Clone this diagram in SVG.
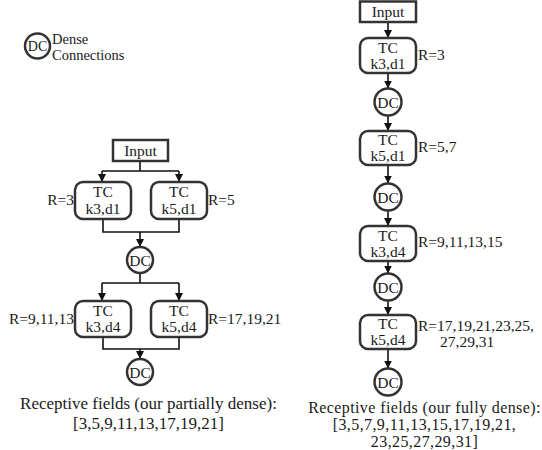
<svg xmlns="http://www.w3.org/2000/svg" width="542" height="450" viewBox="0 0 542 450">
<style>
text{font-family:"Liberation Serif","Times New Roman","DejaVu Serif",serif;fill:#1a1a1a}
.box{fill:#fff;stroke:#333;stroke-width:2.5}
.dc{fill:#fff;stroke:#333;stroke-width:2.5}
.n{font-size:15.5px;text-anchor:middle}
.lbl{font-size:15.5px}
.cap{font-size:17px;text-anchor:middle}
.cap2{font-size:16px;letter-spacing:0.4px;text-anchor:middle}
.c{fill:none;stroke:#111;stroke-width:1.6}
</style>
<defs>
<marker id="ah" viewBox="0 0 8 8" refX="8" refY="4" markerWidth="8" markerHeight="8" markerUnits="userSpaceOnUse" orient="auto">
<path d="M0,0 L8,4 L0,8 Z" fill="#111"/>
</marker>
</defs>
<rect width="542" height="450" fill="#fff"/>

<g id="legend">
<circle class="dc" cx="37.5" cy="46" r="12.5"/>
<text x="37.5" y="51" font-size="14" text-anchor="middle">DC</text>
<text x="52" y="44" font-size="14.5">Dense</text>
<text x="52" y="60" font-size="14.5">Connections</text>
</g>

<g id="connectors">
<path class="c" d="M140,161 V171 M102,171 H179"/>
<path class="c" d="M102,171 V182" marker-end="url(#ah)"/>
<path class="c" d="M179,171 V182" marker-end="url(#ah)"/>
<path class="c" d="M103,219 V232 H179 V219"/>
<path class="c" d="M140,232 V247" marker-end="url(#ah)"/>
<path class="c" d="M140,273 V283 M102,283 H179"/>
<path class="c" d="M102,283 V301" marker-end="url(#ah)"/>
<path class="c" d="M179,283 V301" marker-end="url(#ah)"/>
<path class="c" d="M103,337 V349 H179 V337"/>
<path class="c" d="M140,349 V359" marker-end="url(#ah)"/>
<path class="c" d="M388,22 V38" marker-end="url(#ah)"/>
<path class="c" d="M388,73 V88.5" marker-end="url(#ah)"/>
<path class="c" d="M388,116 V131" marker-end="url(#ah)"/>
<path class="c" d="M388,165 V183.5" marker-end="url(#ah)"/>
<path class="c" d="M388,211 V226" marker-end="url(#ah)"/>
<path class="c" d="M388,261 V273.5" marker-end="url(#ah)"/>
<path class="c" d="M388,301 V315" marker-end="url(#ah)"/>
<path class="c" d="M388,349 V368.5" marker-end="url(#ah)"/>
</g>

<g id="L_input">
<rect class="box" x="113" y="140" width="55" height="21"/>
<text class="n" x="140.5" y="156">Input</text>
</g>
<g id="L_tc1">
<rect class="box" x="75" y="182" width="56" height="37" rx="8"/>
<text class="n" x="103" y="197">TC</text>
<text class="n" x="103" y="213.5">k3,d1</text>
<text class="lbl" x="74" y="205" text-anchor="end">R=3</text>
</g>
<g id="L_tc2">
<rect class="box" x="151" y="182" width="56" height="37" rx="8"/>
<text class="n" x="179" y="197">TC</text>
<text class="n" x="179" y="213.5">k5,d1</text>
<text class="lbl" x="208" y="205">R=5</text>
</g>
<g id="L_dc1">
<circle class="dc" cx="140" cy="260" r="13"/>
<text class="n" x="140" y="265.5">DC</text>
</g>
<g id="L_tc3">
<rect class="box" x="75" y="301" width="56" height="36" rx="8"/>
<text class="n" x="103" y="315.5">TC</text>
<text class="n" x="103" y="332">k3,d4</text>
<text class="lbl" x="74" y="324" text-anchor="end">R=9,11,13</text>
</g>
<g id="L_tc4">
<rect class="box" x="151" y="301" width="56" height="36" rx="8"/>
<text class="n" x="179" y="315.5">TC</text>
<text class="n" x="179" y="332">k5,d4</text>
<text class="lbl" x="208" y="324">R=17,19,21</text>
</g>
<g id="L_dc2">
<circle class="dc" cx="140" cy="372" r="13"/>
<text class="n" x="140" y="377.5">DC</text>
</g>
<g id="L_caption">
<text class="cap" x="148.5" y="409">Receptive fields (our partially dense):</text>
<text class="cap" x="148.5" y="429">[3,5,9,11,13,17,19,21]</text>
</g>

<g id="R_input">
<rect class="box" x="360" y="1.5" width="56" height="20.5"/>
<text class="n" x="388" y="17">Input</text>
</g>
<g id="R_tc1">
<rect class="box" x="360" y="38" width="56" height="35" rx="8"/>
<text class="n" x="388" y="52.5">TC</text>
<text class="n" x="388" y="68.5">k3,d1</text>
<text class="lbl" x="418" y="60">R=3</text>
</g>
<g id="R_dc1">
<circle class="dc" cx="388" cy="102" r="13.5"/>
<text class="n" x="388" y="107.5">DC</text>
</g>
<g id="R_tc2">
<rect class="box" x="360" y="131" width="56" height="34" rx="8"/>
<text class="n" x="388" y="144.5">TC</text>
<text class="n" x="388" y="160.5">k5,d1</text>
<text class="lbl" x="418" y="152">R=5,7</text>
</g>
<g id="R_dc2">
<circle class="dc" cx="388" cy="197" r="13.5"/>
<text class="n" x="388" y="202.5">DC</text>
</g>
<g id="R_tc3">
<rect class="box" x="360" y="226" width="56" height="35" rx="8"/>
<text class="n" x="388" y="240.5">TC</text>
<text class="n" x="388" y="256.5">k3,d4</text>
<text class="lbl" x="418" y="247">R=9,11,13,15</text>
</g>
<g id="R_dc3">
<circle class="dc" cx="388" cy="287" r="13.5"/>
<text class="n" x="388" y="292.5">DC</text>
</g>
<g id="R_tc4">
<rect class="box" x="360" y="315" width="56" height="34" rx="8"/>
<text class="n" x="388" y="328.5">TC</text>
<text class="n" x="388" y="344.5">k5,d4</text>
<text class="lbl" x="418" y="330.5">R=17,19,21,23,25,</text>
<text class="lbl" x="440" y="347">27,29,31</text>
</g>
<g id="R_dc4">
<circle class="dc" cx="388" cy="382" r="13.5"/>
<text class="n" x="388" y="387.5">DC</text>
</g>
<g id="R_caption">
<text class="cap2" x="424.5" y="413">Receptive fields (our fully dense):</text>
<text class="cap2" x="424.5" y="430">[3,5,7,9,11,13,15,17,19,21,</text>
<text class="cap2" x="424.5" y="447">23,25,27,29,31]</text>
</g>
</svg>
